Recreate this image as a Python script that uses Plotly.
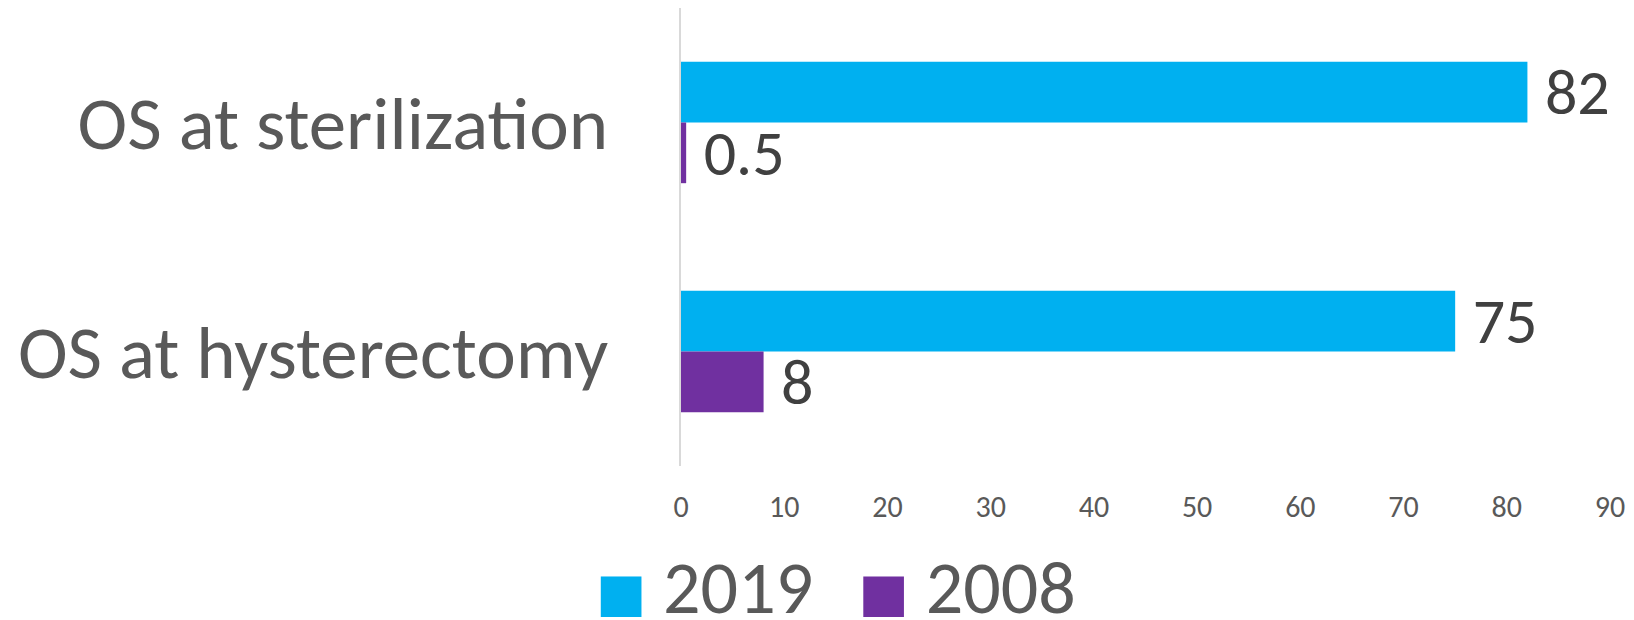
import plotly.graph_objects as go

categories = ["OS at sterilization", "OS at hysterectomy"]
series_names = ["2019", "2008"]
values_2019 = [82, 75]
values_2008 = [0.5, 8]
x_ticks = [0, 10, 20, 30, 40, 50, 60, 70, 80, 90]

colors = {"2019": "#00B0F0", "2008": "#7030A0"}
FONT = "Carlito, Lato, 'Open Sans', sans-serif"

fig = go.Figure()
for name, vals in zip(series_names, [values_2019, values_2008]):
    fig.add_trace(go.Bar(
        name=name,
        legendgroup=name,
        showlegend=False,
        y=categories,
        x=vals,
        orientation="h",
        marker=dict(color=colors[name], line=dict(width=0)),
        text=[f"\u00a0{v:g}" for v in vals],
        textposition="outside",
        constraintext="none",
        textfont=dict(family=FONT, size=64, color="#404040"),
        cliponaxis=False,
    ))

# legend entries (large square swatch drawn as a glyph in the legend text)
for name in series_names:
    fig.add_trace(go.Scatter(
        x=[None], y=[None],
        mode="markers",
        marker=dict(color="rgba(0,0,0,0)", size=1),
        name=(f'<span style="color:{colors[name]};font-size:84px;'
              f'baseline-shift:-9px">\u25A0</span>\u00a0{name}'),
        legendgroup=name,
        showlegend=True,
        hoverinfo="skip",
    ))

fig.update_layout(
    template="none",
    width=1634,
    height=620,
    margin=dict(l=681, r=24, t=8, b=154, autoexpand=False),
    paper_bgcolor="white",
    plot_bgcolor="white",
    barmode="group",
    bargap=0.47,
    bargroupgap=0,
    font=dict(family=FONT, color="#595959"),
    xaxis=dict(
        range=[0, 90],
        tickvals=x_ticks,
        showgrid=False,
        zeroline=False,
        showline=False,
        ticks="",
        automargin=False,
        tickfont=dict(size=30, color="#595959"),
        ticklabelstandoff=20,
    ),
    yaxis=dict(
        autorange="reversed",
        showgrid=False,
        zeroline=False,
        showline=True,
        ticks="",
        automargin=False,
        linecolor="#D9D9D9",
        linewidth=1.5,
        tickfont=dict(size=75, color="#595959"),
        ticklabelstandoff=56,
    ),
    legend=dict(
        orientation="h",
        xref="container",
        yref="container",
        x=0.501,
        xanchor="center",
        y=0.058,
        yanchor="middle",
        font=dict(size=74, color="#595959"),
        bgcolor="rgba(0,0,0,0)",
    ),
    showlegend=True,
)

fig.write_html(
    "out.html",
    config={"displayModeBar": False},
    post_script="document.body.style.margin='0';document.body.style.overflow='hidden';",
)
